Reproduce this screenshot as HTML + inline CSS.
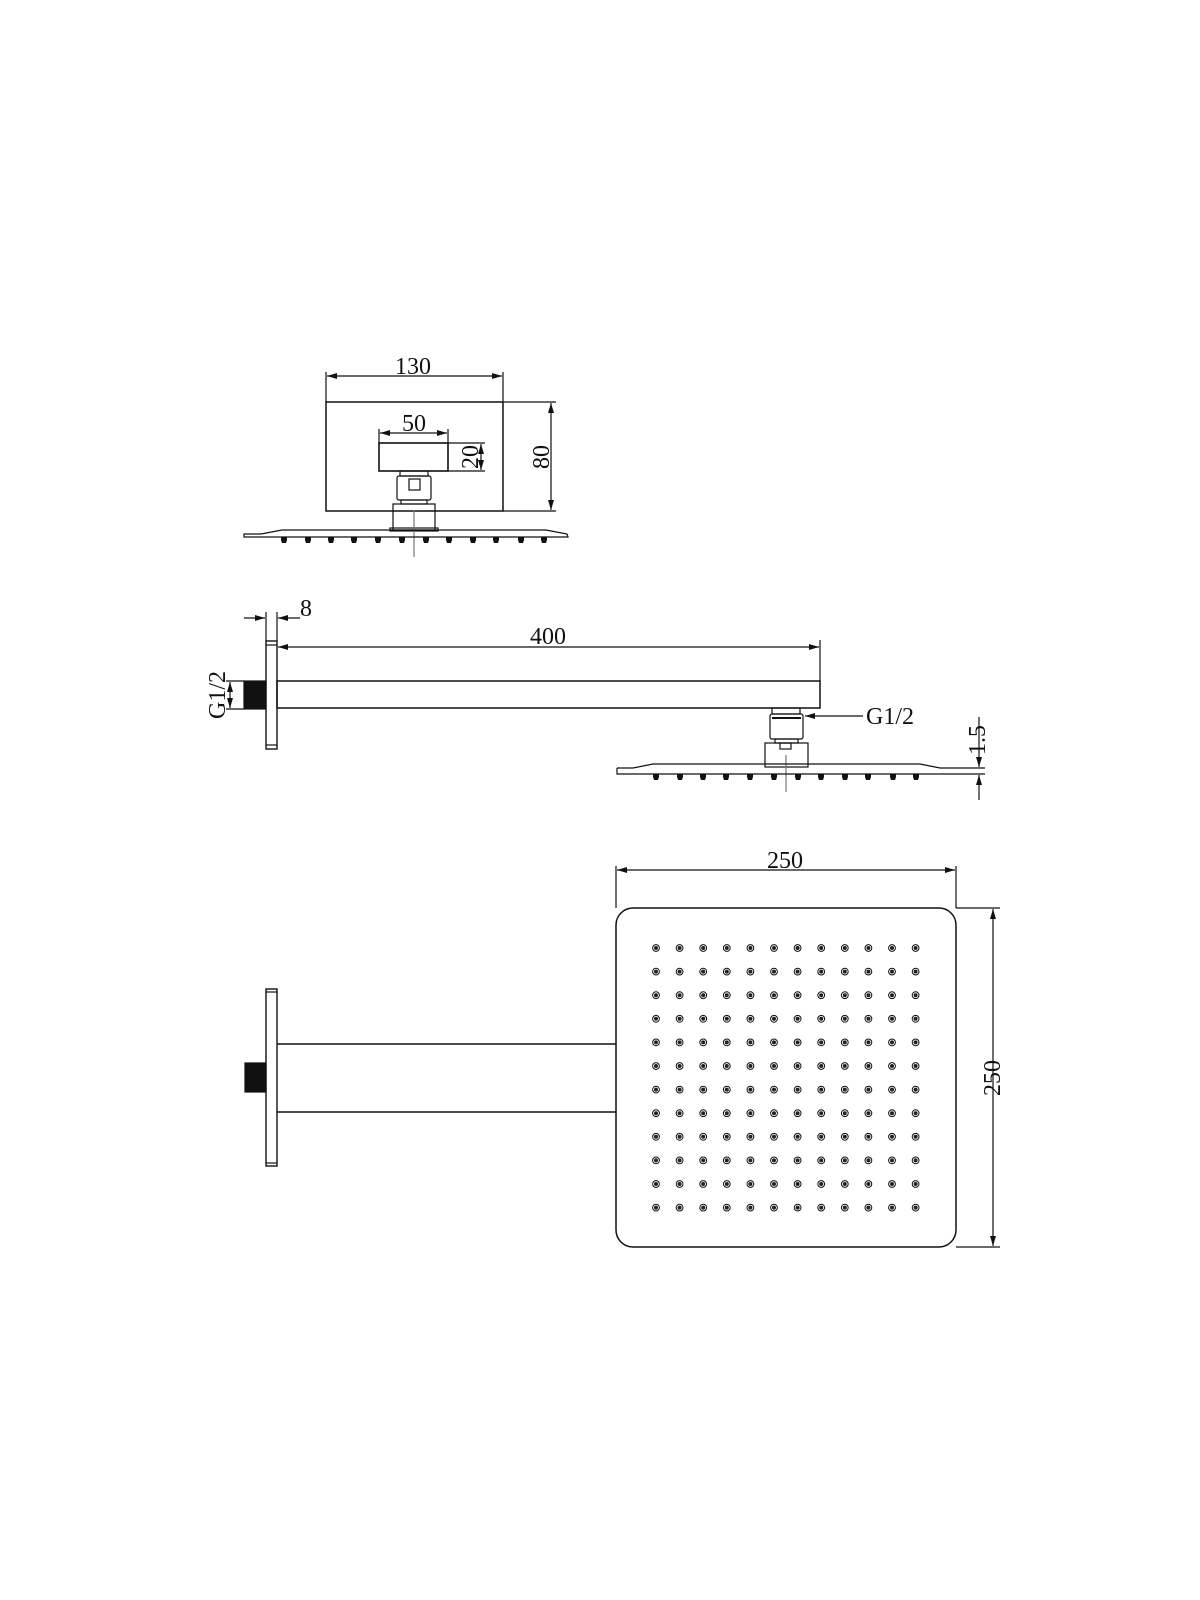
<!DOCTYPE html>
<html><head><meta charset="utf-8"><style>
html,body{margin:0;padding:0;background:#fff;}
svg{display:block;}
text{font-family:"Liberation Serif",serif;font-size:24px;fill:#111;}
</style></head><body>
<svg width="1200" height="1600" viewBox="0 0 1200 1600" xmlns="http://www.w3.org/2000/svg">
<defs>
<marker id="a" viewBox="0 0 10 6" refX="10" refY="3" markerWidth="10" markerHeight="6" orient="auto-start-reverse" markerUnits="userSpaceOnUse"><path d="M0,0 L10,3 L0,6 z" fill="#111"/></marker>
</defs>
<g stroke="#111" stroke-width="1.2" fill="none">
<line x1="326" y1="372" x2="326" y2="402"/>
<line x1="503" y1="372" x2="503" y2="402"/>
<line x1="327" y1="376" x2="502" y2="376" marker-start="url(#a)" marker-end="url(#a)"/>
<rect x="326" y="402" width="177" height="109" stroke-width="1.5"/>
<line x1="503" y1="402" x2="556" y2="402"/>
<line x1="503" y1="511" x2="556" y2="511"/>
<line x1="551" y1="403" x2="551" y2="510" marker-start="url(#a)" marker-end="url(#a)"/>
<rect x="379" y="443" width="69" height="28" stroke-width="1.6"/>
<line x1="379" y1="429" x2="379" y2="443"/>
<line x1="448" y1="429" x2="448" y2="443"/>
<line x1="380" y1="433" x2="447" y2="433" marker-start="url(#a)" marker-end="url(#a)"/>
<line x1="448" y1="443" x2="485" y2="443"/>
<line x1="448" y1="471" x2="485" y2="471"/>
<line x1="481" y1="444" x2="481" y2="470" marker-start="url(#a)" marker-end="url(#a)"/>
<rect x="400" y="471" width="28" height="5"/>
<rect x="397" y="476" width="34" height="24" rx="2"/>
<rect x="409" y="479" width="11" height="11"/>
<rect x="401" y="500" width="26" height="4"/>
<rect x="393" y="504" width="42" height="26"/>
<rect x="390" y="528" width="48" height="3"/>
<line x1="414" y1="510" x2="414" y2="557" stroke="#777"/>
<path d="M244,534 L261,534 L282,530 L546,530 L567,534 L568,537 L244,537 Z"/>
<line x1="266" y1="612" x2="266" y2="641"/>
<line x1="277" y1="612" x2="277" y2="641"/>
<line x1="244" y1="618" x2="265" y2="618" marker-end="url(#a)"/>
<line x1="300" y1="618" x2="278" y2="618" marker-end="url(#a)"/>
<rect x="266" y="641" width="11" height="108" stroke-width="1.4"/>
<line x1="266" y1="645" x2="277" y2="645"/>
<line x1="266" y1="745" x2="277" y2="745"/>
<rect x="244" y="681" width="22" height="28" fill="#111"/>
<line x1="226" y1="681" x2="244" y2="681"/>
<line x1="226" y1="709" x2="244" y2="709"/>
<line x1="230" y1="682" x2="230" y2="708" marker-start="url(#a)" marker-end="url(#a)"/>
<line x1="278" y1="647" x2="819" y2="647" marker-start="url(#a)" marker-end="url(#a)"/>
<line x1="820" y1="640" x2="820" y2="681"/>
<rect x="277" y="681" width="543" height="27" stroke-width="1.5"/>
<rect x="772" y="708" width="28" height="6"/>
<rect x="770" y="714" width="33" height="25" rx="2"/>
<line x1="772" y1="718" x2="801" y2="718" stroke-width="2"/>
<rect x="775" y="739" width="23" height="4"/>
<rect x="765" y="743" width="43" height="24"/>
<rect x="780" y="743" width="11" height="6"/>
<line x1="786" y1="755" x2="786" y2="792" stroke="#777"/>
<path d="M617,768 L633,768 L653,764 L920,764 L940,768 L960,768 M617,768 L617,774 L985,774 M940,768 L985,768"/>
<line x1="805" y1="716" x2="863" y2="716" marker-start="url(#a)"/>
<line x1="979" y1="717" x2="979" y2="767" marker-end="url(#a)"/>
<line x1="979" y1="800" x2="979" y2="775" marker-end="url(#a)"/>
<line x1="616" y1="866" x2="616" y2="908"/>
<line x1="956" y1="866" x2="956" y2="908"/>
<line x1="617" y1="870" x2="955" y2="870" marker-start="url(#a)" marker-end="url(#a)"/>
<rect x="616" y="908" width="340" height="339" rx="17" stroke-width="1.5"/>
<line x1="956" y1="908" x2="1000" y2="908"/>
<line x1="956" y1="1247" x2="1000" y2="1247"/>
<line x1="993" y1="909" x2="993" y2="1246" marker-start="url(#a)" marker-end="url(#a)"/>
<rect x="266" y="989" width="11" height="177" stroke-width="1.4"/>
<line x1="266" y1="992" x2="277" y2="992"/>
<line x1="266" y1="1163" x2="277" y2="1163"/>
<rect x="245" y="1063" width="21" height="29" fill="#111"/>
<line x1="277" y1="1044" x2="616" y2="1044" stroke-width="1.5"/>
<line x1="277" y1="1112" x2="616" y2="1112" stroke-width="1.5"/>
</g>
<g fill="#111">
<g>
<path d="M281,537 h6 v3 l-1,3 h-4 l-1,-3z"/><path d="M305,537 h6 v3 l-1,3 h-4 l-1,-3z"/><path d="M328,537 h6 v3 l-1,3 h-4 l-1,-3z"/><path d="M351,537 h6 v3 l-1,3 h-4 l-1,-3z"/><path d="M375,537 h6 v3 l-1,3 h-4 l-1,-3z"/><path d="M399,537 h6 v3 l-1,3 h-4 l-1,-3z"/><path d="M423,537 h6 v3 l-1,3 h-4 l-1,-3z"/><path d="M446,537 h6 v3 l-1,3 h-4 l-1,-3z"/><path d="M470,537 h6 v3 l-1,3 h-4 l-1,-3z"/><path d="M493,537 h6 v3 l-1,3 h-4 l-1,-3z"/><path d="M518,537 h6 v3 l-1,3 h-4 l-1,-3z"/><path d="M541,537 h6 v3 l-1,3 h-4 l-1,-3z"/>
</g>
<g transform="translate(372,237)">
<path d="M281,537 h6 v3 l-1,3 h-4 l-1,-3z"/><path d="M305,537 h6 v3 l-1,3 h-4 l-1,-3z"/><path d="M328,537 h6 v3 l-1,3 h-4 l-1,-3z"/><path d="M351,537 h6 v3 l-1,3 h-4 l-1,-3z"/><path d="M375,537 h6 v3 l-1,3 h-4 l-1,-3z"/><path d="M399,537 h6 v3 l-1,3 h-4 l-1,-3z"/><path d="M423,537 h6 v3 l-1,3 h-4 l-1,-3z"/><path d="M446,537 h6 v3 l-1,3 h-4 l-1,-3z"/><path d="M470,537 h6 v3 l-1,3 h-4 l-1,-3z"/><path d="M493,537 h6 v3 l-1,3 h-4 l-1,-3z"/><path d="M518,537 h6 v3 l-1,3 h-4 l-1,-3z"/><path d="M541,537 h6 v3 l-1,3 h-4 l-1,-3z"/>
</g>
</g>
<g id="dots" fill="#222" stroke="#111" stroke-width="1">
</g>
<text x="413" y="374" text-anchor="middle">130</text>
<text x="414" y="431" text-anchor="middle">50</text>
<text transform="translate(478,457) rotate(-90)" text-anchor="middle">20</text>
<text transform="translate(549,457) rotate(-90)" text-anchor="middle">80</text>
<text x="306" y="616" text-anchor="middle">8</text>
<text x="548" y="644" text-anchor="middle">400</text>
<text transform="translate(225,695) rotate(-90)" text-anchor="middle">G1/2</text>
<text x="866" y="724">G1/2</text>
<text transform="translate(985,740) rotate(-90)" text-anchor="middle">1.5</text>
<text x="785" y="868" text-anchor="middle">250</text>
<text transform="translate(1000,1078) rotate(-90)" text-anchor="middle">250</text>
<script>
(function(){var g=document.getElementById('dots'),ns='http://www.w3.org/2000/svg';
for(var r=0;r<12;r++)for(var c=0;c<12;c++){var x=656+c*23.6,y=948+r*23.6;
var o=document.createElementNS(ns,'circle');o.setAttribute('cx',x);o.setAttribute('cy',y);o.setAttribute('r',3.4);o.setAttribute('fill','#fff');g.appendChild(o);
var i=document.createElementNS(ns,'circle');i.setAttribute('cx',x);i.setAttribute('cy',y);i.setAttribute('r',2);i.setAttribute('stroke','none');g.appendChild(i);}})();
</script>
</svg>
</body></html>
